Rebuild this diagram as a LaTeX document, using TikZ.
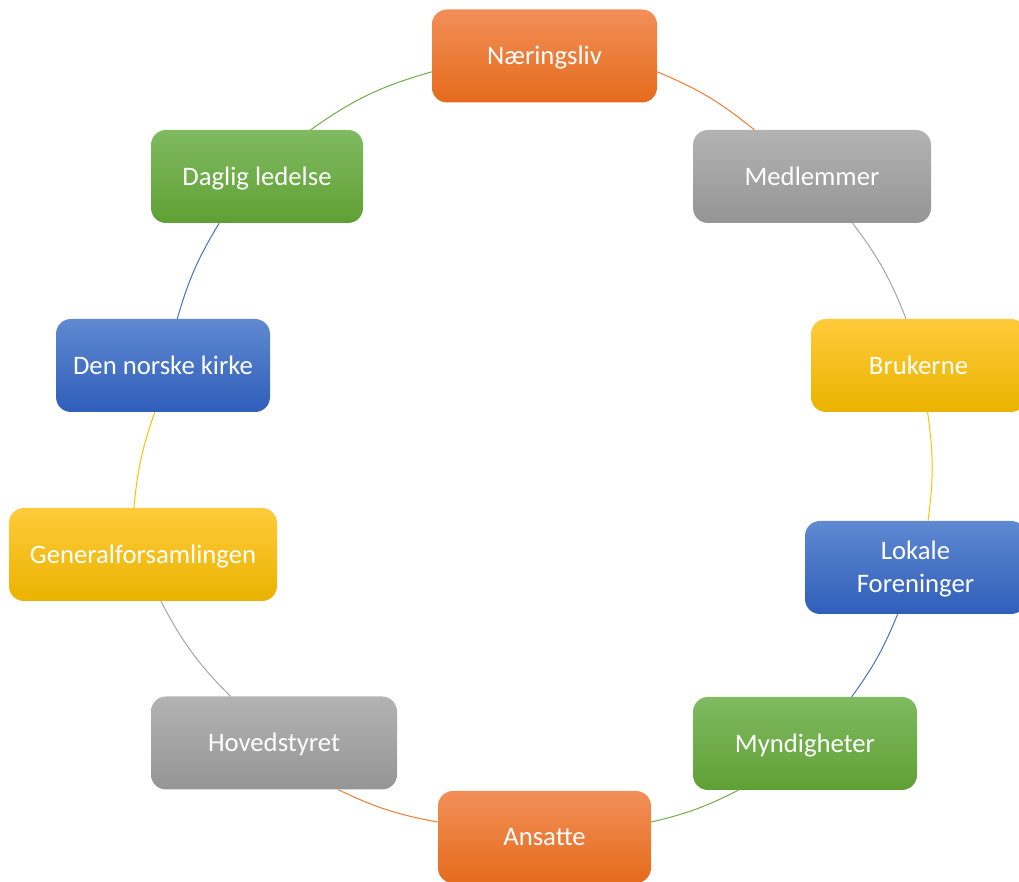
\documentclass[tikz,border=0pt]{standalone}
\usepackage{fontspec}
\setmainfont{Carlito}
\definecolor{cOrange}{HTML}{ED7D31}
\definecolor{cGray}{HTML}{A5A5A5}
\definecolor{cYellow}{HTML}{FFC000}
\definecolor{cBlue}{HTML}{4472C4}
\definecolor{cGreen}{HTML}{70AD47}
% gradient stops, named after their hex value
\def\defhtml#1{\definecolor{HTML-#1}{HTML}{#1}}
\defhtml{F28F58}\defhtml{F47D2E}\defhtml{E56B1C}
\defhtml{B3B3B3}\defhtml{A6A6A6}\defhtml{959595}
\defhtml{FFCB3A}\defhtml{FFC207}\defhtml{EAB300}
\defhtml{6089D1}\defhtml{4674CA}\defhtml{2F5EBA}
\defhtml{80BA61}\defhtml{6EAE47}\defhtml{5FA034}
\tikzset{
  box/.style={rounded corners=15pt, minimum height=93pt, inner sep=0pt,
    text=white, font=\fontsize{26.7}{32.6}\selectfont,
    text height=17.2pt, text depth=0pt},
  orangebox/.style={box, top color=HTML-F28F58, middle color=HTML-F47D2E, bottom color=HTML-E56B1C},
  graybox/.style={box, top color=HTML-B3B3B3, middle color=HTML-A6A6A6, bottom color=HTML-959595},
  yellowbox/.style={box, top color=HTML-FFCB3A, middle color=HTML-FFC207, bottom color=HTML-EAB300},
  bluebox/.style={box, top color=HTML-6089D1, middle color=HTML-4674CA, bottom color=HTML-2F5EBA},
  greenbox/.style={box, top color=HTML-80BA61, middle color=HTML-6EAE47, bottom color=HTML-5FA034},
  link/.style={line width=1pt},
}
\begin{document}
\begin{tikzpicture}[x=1pt,y=1pt]
\useasboundingbox (0,0) rectangle (1019,882);
\clip (0,0) rectangle (1019,882);
% the ten boxes of the cycle
\node[orangebox, minimum width=225pt] (n1) at (544.5,826) {Næringsliv};
\node[graybox,   minimum width=238pt] (n2) at (812,705.5) {Medlemmer};
\node[yellowbox, minimum width=215pt] (n3) at (918.5,516.5) {Brukerne};
\node[bluebox,   minimum width=221pt, align=center, text height=49.8pt] (n4) at (915.5,314.5) {Lokale\\Foreninger};
\node[greenbox,  minimum width=224pt] (n5) at (805,138.5) {Myndigheter};
\node[orangebox, minimum width=213pt, minimum height=92pt] (n6) at (544.5,45) {Ansatte};
\node[graybox,   minimum width=246pt] (n7) at (274,139) {Hovedstyret};
\node[yellowbox, minimum width=268pt] (n8) at (143,327.5) {Generalforsamlingen};
\node[bluebox,   minimum width=214pt] (n9) at (163,516.5) {Den norske kirke};
\node[greenbox,  minimum width=212pt] (n10) at (257,705.5) {Daglig ledelse};
% arcs of the ring between neighbours, coloured like the box they leave
\draw[link, cOrange] (n1.-8.6)   to[bend left=8.2] (n2.141.2);
\draw[link, cGray]   (n2.-49.2)  to[bend left=7.9] (n3.105.9);
\draw[link, cYellow] (n3.-79.9)  to[bend left=7.9] (n4.75.3);
\draw[link, cBlue]   (n4.-111.3) to[bend left=6.9] (n5.45.9);
\draw[link, cGreen]  (n5.215.6)  to[bend left=7.0] (n6.8.0);
\draw[link, cOrange] (n6.172.0)  to[bend left=7.7] (n7.-36.3);
\draw[link, cGray]   (n7.133.1)  to[bend left=8.7] (n8.-69.9);
\draw[link, cYellow] (n8.101.6)  to[bend left=7.0] (n9.260.4);
\draw[link, cBlue]   (n9.73.6)   to[bend left=7.6] (n10.231.3);
\draw[link, cGreen]  (n10.41.9)  to[bend left=9.8] (n1.188.1);
\end{tikzpicture}
\end{document}
